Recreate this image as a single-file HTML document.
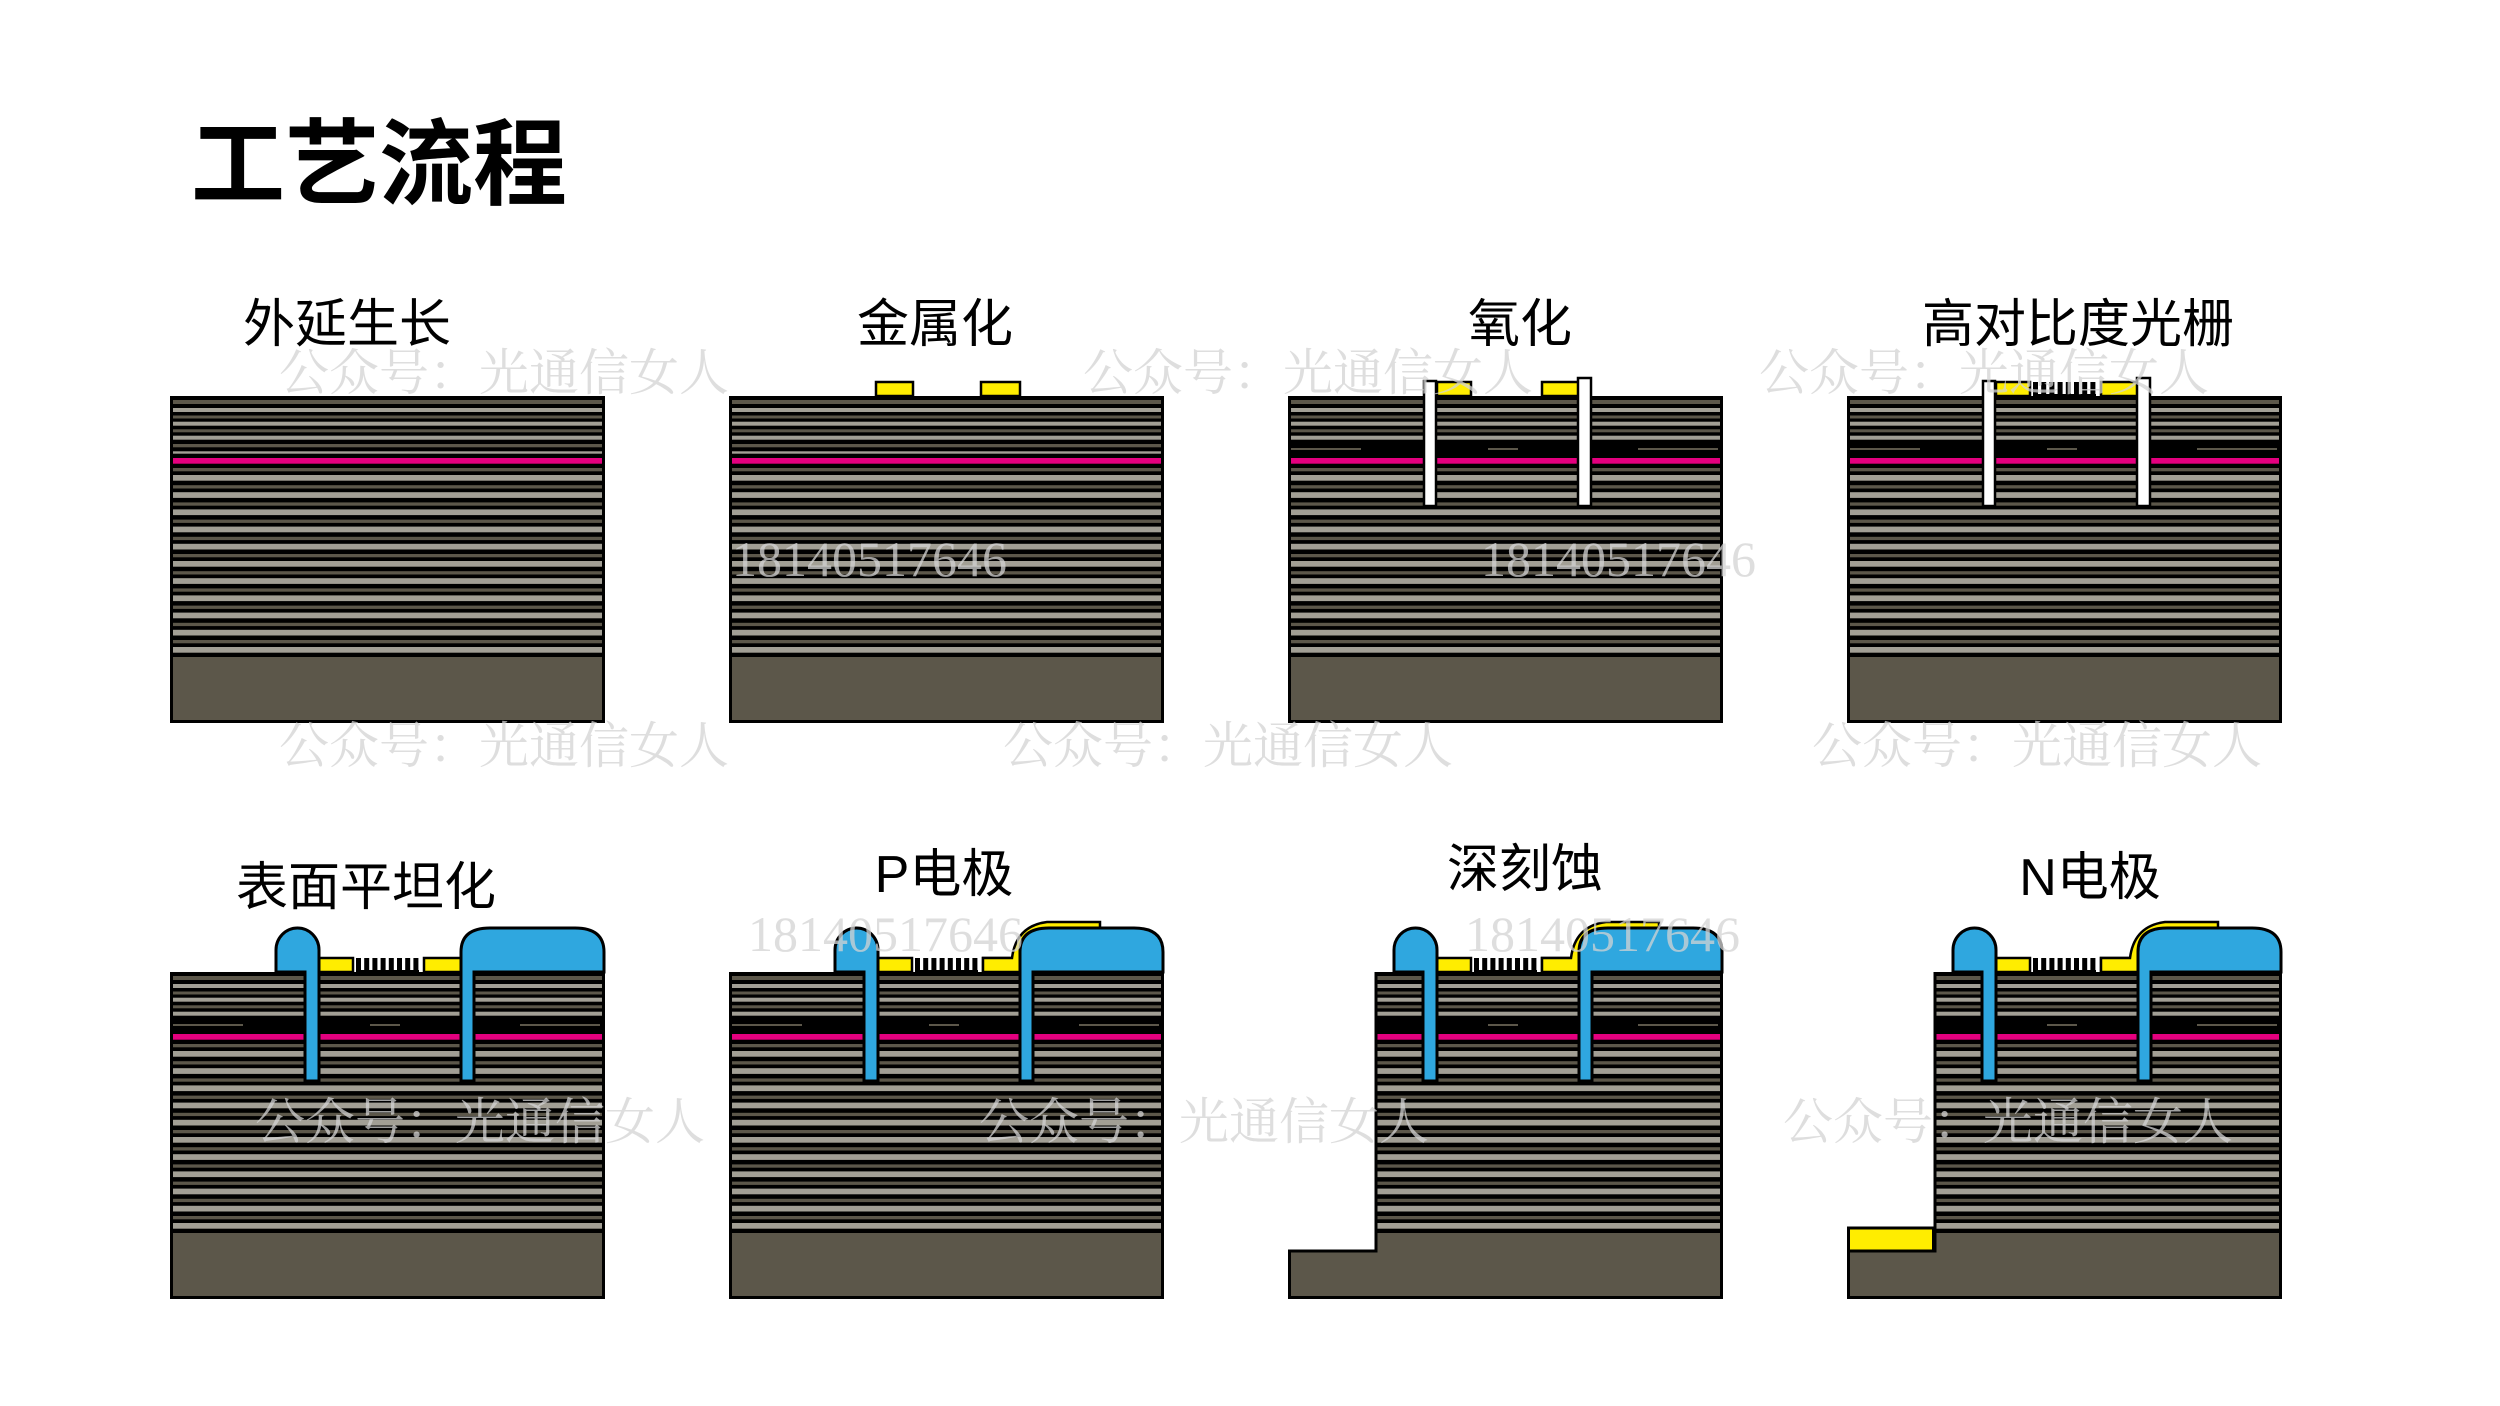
<!DOCTYPE html>
<html><head><meta charset="utf-8"><style>
html,body{margin:0;padding:0;background:#fff;}
svg{display:block}
.t{font-family:"Liberation Sans","Noto Sans CJK SC",sans-serif;fill:#000}
.w{font-family:"Liberation Serif","Noto Serif CJK SC",serif;fill:#d4d4d4;opacity:.75;font-size:50px}
</style></head><body>
<svg width="2500" height="1406" viewBox="0 0 2500 1406" xmlns="http://www.w3.org/2000/svg">
<defs>
<g id="stk">
<rect x="0" y="0" width="435" height="327" fill="#000"/>
<g fill="#5c574a">
<rect x="3" y="4" width="429" height="4"/><rect x="3" y="19.5" width="429" height="3"/><rect x="3" y="33.3" width="429" height="3"/><rect x="3" y="48" width="429" height="3.3"/>
<rect x="3" y="72" width="429" height="3.3"/><rect x="3" y="89.2" width="429" height="3.3"/><rect x="3" y="106.4" width="429" height="3.3"/><rect x="3" y="123.6" width="429" height="3.3"/><rect x="3" y="140.8" width="429" height="3.3"/><rect x="3" y="158" width="429" height="3.3"/><rect x="3" y="175.2" width="429" height="3.3"/><rect x="3" y="192.4" width="429" height="3.3"/><rect x="3" y="209.6" width="429" height="3.3"/><rect x="3" y="226.8" width="429" height="3.3"/><rect x="3" y="244" width="429" height="3.3"/>
<rect x="3" y="261" width="429" height="63"/>
</g>
<g fill="#a29f95">
<rect x="3" y="12" width="429" height="4"/><rect x="3" y="25.7" width="429" height="4"/><rect x="3" y="39.7" width="429" height="4"/><rect x="3" y="55.3" width="429" height="2.4"/>
<rect x="3" y="79" width="429" height="5.7"/><rect x="3" y="96.2" width="429" height="5.7"/><rect x="3" y="113.4" width="429" height="5.7"/><rect x="3" y="130.6" width="429" height="5.7"/><rect x="3" y="147.8" width="429" height="5.7"/><rect x="3" y="165" width="429" height="5.7"/><rect x="3" y="182.2" width="429" height="5.7"/><rect x="3" y="199.4" width="429" height="5.7"/><rect x="3" y="216.6" width="429" height="5.7"/><rect x="3" y="233.8" width="429" height="5.7"/><rect x="3" y="251" width="429" height="5.7"/>
</g>
<rect x="3" y="62" width="429" height="5.7" fill="#e4007f"/>
<rect x="1.5" y="1.5" width="432" height="324" fill="none" stroke="#000" stroke-width="3"/>
</g>
<g id="grat">
<rect x="186" y="-14" width="5" height="14" fill="#000"/><rect x="194.2" y="-14" width="5" height="14" fill="#000"/><rect x="202.4" y="-14" width="5" height="14" fill="#000"/><rect x="210.6" y="-14" width="5" height="14" fill="#000"/><rect x="218.8" y="-14" width="5" height="14" fill="#000"/><rect x="227" y="-14" width="5" height="14" fill="#000"/><rect x="235.2" y="-14" width="5" height="14" fill="#000"/><rect x="243.4" y="-14" width="5" height="14" fill="#000"/>
<rect x="186" y="-2" width="63" height="2" fill="#000"/>
</g>
<g id="ox">
<rect x="3" y="47" width="429" height="12" fill="#000"/>
<rect x="200" y="52" width="30" height="2" fill="#5c574a"/><rect x="350" y="52" width="80" height="2" fill="#5c574a"/><rect x="3" y="52" width="70" height="2" fill="#5c574a"/>
</g>
<g id="pads">
<rect x="149" y="-14" width="34" height="14" fill="#ffed00" stroke="#000" stroke-width="2.5"/>
<rect x="254" y="-14" width="37" height="14" fill="#ffed00" stroke="#000" stroke-width="2.5"/>
</g>
<g id="blue">
<path d="M135 109 V0 H106 V-22 A21.5 22 0 0 1 149 -22 V109 Z" fill="#2fa7df" stroke="#000" stroke-width="3"/>
<path d="M291 109 V-20 Q291 -44 320 -44 H405 Q434 -44 434 -20 V0 H304 V109 Z" fill="#2fa7df" stroke="#000" stroke-width="3"/>
</g>
<g id="pel">
<path d="M254 0 V-14 H283 Q287 -46 318 -50 H371 V-43 H320 Q296 -40 291 -14 V0 Z" fill="#ffed00" stroke="#000" stroke-width="2.5"/>
</g>
</defs>

<text class="t" x="191" y="197" font-size="94" font-weight="bold">工艺流程</text>

<g font-size="52" text-anchor="middle" class="t">
<text class="t" x="347" y="342">外延生长</text>
<text class="t" x="935" y="342">金属化</text>
<text class="t" x="1520" y="342">氧化</text>
<text class="t" x="2078" y="342">高对比度光栅</text>
<text class="t" x="366" y="905">表面平坦化</text>
<text class="t" x="944" y="892">P电极</text>
<text class="t" x="1525" y="887">深刻蚀</text>
<text class="t" x="2090" y="895">N电极</text>
</g>

<!-- Row 1 -->
<use href="#stk" x="170" y="396"/>
<use href="#stk" x="729" y="396"/>
<g transform="translate(729,396)">
<rect x="147" y="-14" width="37" height="14" fill="#ffed00" stroke="#000" stroke-width="2.5"/>
<rect x="252" y="-14" width="39" height="14" fill="#ffed00" stroke="#000" stroke-width="2.5"/>
</g>
<g transform="translate(1288,396)">
<use href="#stk"/><use href="#ox"/><use href="#pads"/>
<rect x="136" y="-15" width="12" height="125" fill="#fff" stroke="#000" stroke-width="2.5"/>
<rect x="290" y="-18" width="13" height="128" fill="#fff" stroke="#000" stroke-width="2.5"/>
</g>
<g transform="translate(1847,396)">
<use href="#stk"/><use href="#ox"/><use href="#pads"/><use href="#grat"/>
<rect x="136" y="-15" width="12" height="125" fill="#fff" stroke="#000" stroke-width="2.5"/>
<rect x="290" y="-18" width="13" height="128" fill="#fff" stroke="#000" stroke-width="2.5"/>
</g>

<!-- Row 2 -->
<g transform="translate(170,972)">
<use href="#stk"/><use href="#ox"/><use href="#pads"/><use href="#grat"/><use href="#blue"/>
</g>
<g transform="translate(729,972)">
<use href="#stk"/><use href="#ox"/><use href="#pads"/><use href="#grat"/><use href="#pel"/><use href="#blue"/>
</g>
<g transform="translate(1288,972)">
<use href="#stk"/><use href="#ox"/>
<rect x="-3" y="-3" width="91" height="282" fill="#fff"/>
<path d="M88 0 V279 H1.5 V325.5 H433.5 V1.5 H88" fill="none" stroke="#000" stroke-width="3"/>
<use href="#pads"/><use href="#grat"/><use href="#pel"/><use href="#blue"/>
</g>
<g transform="translate(1847,972)">
<use href="#stk"/><use href="#ox"/>
<rect x="-3" y="-3" width="91" height="282" fill="#fff"/>
<path d="M88 0 V279 H1.5 V325.5 H433.5 V1.5 H88" fill="none" stroke="#000" stroke-width="3"/>
<rect x="1.5" y="256" width="85" height="23" fill="#ffed00" stroke="#000" stroke-width="3"/>
<use href="#pads"/><use href="#grat"/><use href="#pel"/><use href="#blue"/>
</g>

<!-- watermarks -->
<text class="w" x="279" y="390">公众号：光通信女人</text>
<text class="w" x="1083" y="390">公众号：光通信女人</text>
<text class="w" x="1759" y="390">公众号：光通信女人</text>
<text class="w" x="279" y="763">公众号：光通信女人</text>
<text class="w" x="1003" y="763">公众号：光通信女人</text>
<text class="w" x="1812" y="763">公众号：光通信女人</text>
<text class="w" x="255" y="1139">公众号：光通信女人</text>
<text class="w" x="979" y="1139">公众号：光通信女人</text>
<text class="w" x="1783" y="1139">公众号：光通信女人</text>
<text class="w" x="732" y="576">18140517646</text>
<text class="w" x="1481" y="576">18140517646</text>
<text class="w" x="748" y="951">18140517646</text>
<text class="w" x="1465" y="951">18140517646</text>
</svg>
</body></html>
